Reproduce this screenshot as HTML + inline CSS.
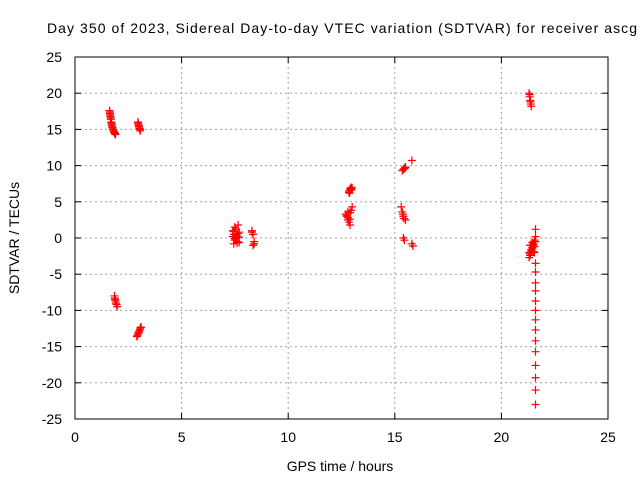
<!DOCTYPE html>
<html><head><meta charset="utf-8"><style>
body{margin:0;background:#fff;width:640px;height:480px;overflow:hidden}
svg text{font-family:"Liberation Sans",sans-serif;font-size:14px;fill:#000}
</style></head><body>
<svg id="c" width="640" height="480">
<text x="47" y="33" textLength="590" lengthAdjust="spacing">Day 350 of 2023, Sidereal Day-to-day VTEC variation (SDTVAR) for receiver ascg</text>
<text x="340" y="471" text-anchor="middle">GPS time / hours</text>
<text transform="translate(19,238) rotate(-90)" text-anchor="middle">SDTVAR / TECUs</text>
<g id="grid"></g><g id="ticks"></g><g id="pts"></g>
<rect x="75" y="57" width="533" height="362" fill="none" stroke="#000" stroke-width="1"/>
</svg>
<script>
const xTicks=[0,5,10,15,20,25];
const yTicks=[25,20,15,10,5,0,-5,-10,-15,-20,-25];
const ptsX=[1.62,1.64,1.65,1.66,1.68,1.70,1.72,1.73,1.75,1.78,1.82,1.86,1.90,1.63,1.67,1.71,1.76,1.80,1.84,1.88,
2.95,2.97,3.0,3.03,3.06,2.96,2.99,3.02,3.05,
1.85,1.87,1.9,1.95,1.98,1.88,1.92,
2.9,2.95,3.0,3.05,3.1,2.92,2.97,3.02,3.07,
7.4,7.45,7.5,7.55,7.6,7.65,7.7,7.45,7.6,7.5,7.7,7.4,7.55,7.65,7.7,7.5,7.6,7.45,
8.3,8.35,8.4,8.35,8.3,8.4,
12.7,12.75,12.8,12.85,12.9,12.95,13.0,12.8,12.9,12.85,12.95,12.75,12.9,12.8,
12.85,12.9,12.95,13.0,12.88,12.93,
15.3,15.35,15.4,15.5,15.35,15.4,15.45,15.5,15.4,15.45,15.8,15.8,15.85,15.38,15.42,15.48,
21.3,21.32,21.35,21.38,21.4,21.33,21.36,
21.3,21.35,21.4,21.45,21.5,21.55,21.6,21.35,21.45,21.5,21.55,21.6,21.4,21.3,21.4,21.5,21.45,21.55,21.35,
21.6,21.6,21.6,21.6,21.6,21.6,21.6,21.6,21.6,21.6,21.6,21.6,21.6,21.6,21.6];
const ptsY=[17.6,17.2,17.0,16.8,16.4,16.0,15.7,15.5,15.3,15.0,14.7,14.5,14.3,17.4,16.6,15.9,15.2,14.9,14.6,14.4,
16.0,15.7,15.4,15.1,14.8,15.9,15.5,15.2,15.0,
-8.0,-8.3,-8.7,-9.2,-9.5,-8.5,-9.0,
-13.6,-13.3,-13.0,-12.6,-12.3,-13.5,-13.1,-12.8,-12.4,
1.0,0.5,1.5,0,-0.5,1.8,0.8,-0.8,0.3,-0.3,-0.6,0.2,1.2,0.6,0.1,-0.1,-0.7,0.9,
1.0,0.5,-0.5,-1.0,0.8,-0.8,
3.3,3.0,2.8,2.2,1.8,3.8,4.3,2.5,3.5,6.3,6.7,3.1,2.6,3.6,
6.5,6.8,7.0,6.9,6.2,6.6,
4.3,3.6,3.0,2.5,9.3,9.5,9.6,9.8,0,-0.3,10.7,-0.8,-1.1,3.3,2.7,9.7,
20.0,19.5,19.0,18.5,18.2,19.8,18.8,
-2.7,-2.2,-1.8,-1.3,-0.8,-0.3,0.2,-2.4,-1.5,-1.0,-2.0,-0.5,-1.0,-2.0,-1.6,-1.9,-0.6,-1.2,-1.0,
1.2,-3.5,-4.7,-6.2,-7.3,-8.7,-10.0,-11.3,-12.7,-14.2,-15.7,-17.6,-19.3,-21.0,-23.0];
const X0=75,X1=608,Y0=419,Y1=57;
const sx=v=>X0+(v-0)/25*(X1-X0);
const sy=v=>Y0-(v+25)/50*(Y0-Y1);
const NS="http://www.w3.org/2000/svg";
const grid=document.getElementById('grid'),ticks=document.getElementById('ticks'),pts=document.getElementById('pts');
function mk(tag,attrs,parent){const e=document.createElementNS(NS,tag);for(const k in attrs)e.setAttribute(k,attrs[k]);parent.appendChild(e);return e;}
xTicks.forEach(t=>{const x=sx(t);
 if(t>0&&t<25){const l=mk('line',{x1:x,x2:x,y1:Y1,y2:Y0,stroke:'#a0a0a0','stroke-dasharray':'2,3'},grid);
 
 }
 mk('line',{x1:x,x2:x,y1:Y0,y2:Y0-6,stroke:'#000'},ticks);
 mk('line',{x1:x,x2:x,y1:Y1,y2:Y1+6,stroke:'#000'},ticks);
 const tx=mk('text',{x:x,y:442,'text-anchor':'middle'},ticks);tx.textContent=t;
 
 });
yTicks.forEach(t=>{const y=sy(t);
 if(t>-25&&t<25){const l=mk('line',{x1:X0,x2:X1,y1:y,y2:y,stroke:'#a0a0a0','stroke-dasharray':'2,3'},grid);
 
 }
 mk('line',{x1:X0,x2:X0+6,y1:y,y2:y,stroke:'#000'},ticks);
 mk('line',{x1:X1,x2:X1-6,y1:y,y2:y,stroke:'#000'},ticks);
 const tx=mk('text',{x:62,y:y+5,'text-anchor':'end'},ticks);tx.textContent=t;
 
 });
ptsX.forEach((v,i)=>{const x=sx(v),y=sy(ptsY[i]);
 const p=mk('path',{d:`M${x-4},${y}H${x+4}M${x},${y-4}V${y+4}`,stroke:'#ff0000','stroke-width':1.2,fill:'none'},pts);
 
 });
</script>
</body></html>
